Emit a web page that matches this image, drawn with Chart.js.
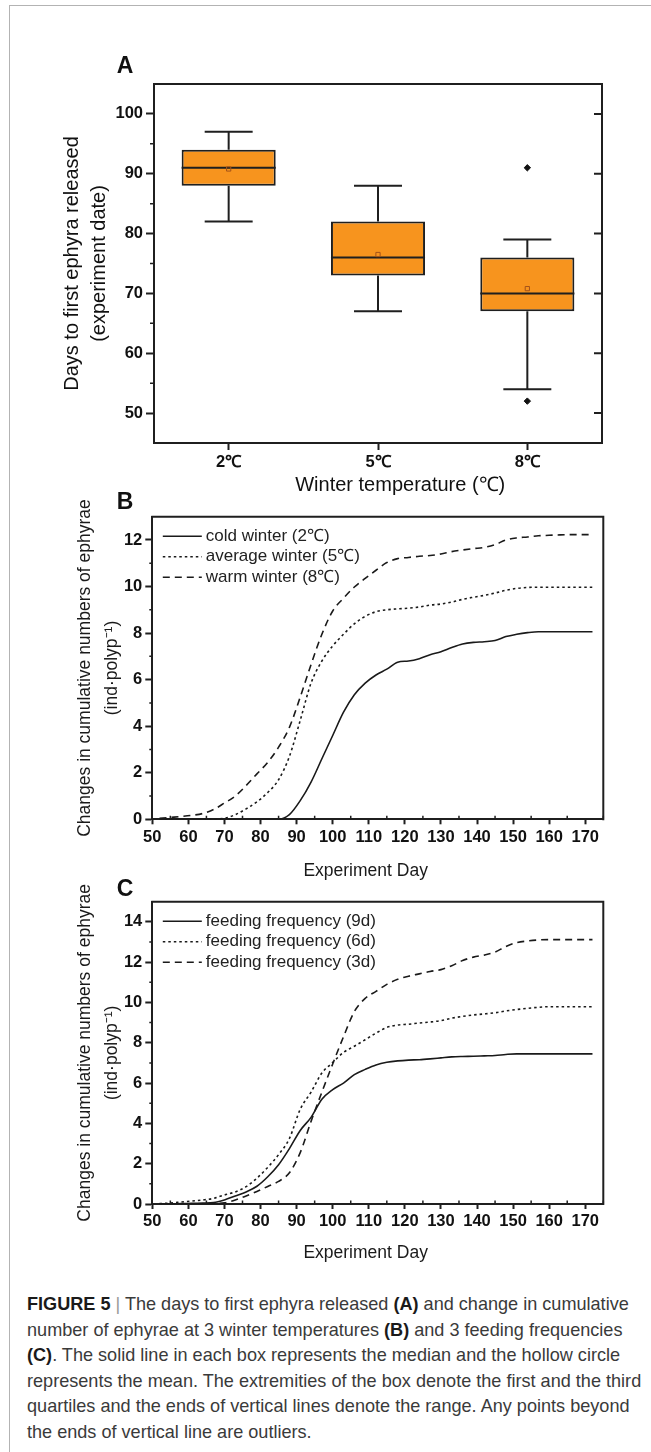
<!DOCTYPE html>
<html>
<head>
<meta charset="utf-8">
<script src="https://cdn.jsdelivr.net/npm/chart.js@4.4.1/dist/chart.umd.min.js"></script>
<style>
  html, body { margin: 0; padding: 0; background: #fff; }
  body { width: 651px; height: 1452px; position: relative; overflow: hidden; font-family: "Liberation Sans", Arial, sans-serif; }
  .rule-top { position: absolute; left: 9px; top: 5px; width: 642px; border-top: 1.5px solid #b3b3b3; }
  .rule-left { position: absolute; left: 8.5px; top: 5px; height: 1447px; border-left: 1.5px solid #b3b3b3; }
  canvas { position: absolute; left: 0; }
  #boxChart { top: 0; }
  #tempChart { top: 480px; }
  #feedChart { top: 870px; }
  .panel { position: absolute; font-weight: bold; font-size: 23px; color: #111; transform: translate(-50%, -50%); line-height: 1; }
  #caption { position: absolute; left: 27px; top: 1292px; color: #3a3a3a; line-height: 25.5px; font-size: 16px; white-space: nowrap; }
  #caption b { color: #1a1a1a; }
  #caption .bar { color: #999; }
</style>
</head>
<body>
<div class="rule-top"></div>
<div class="rule-left"></div>

<canvas id="boxChart" width="651" height="500"></canvas>
<canvas id="tempChart" width="651" height="410"></canvas>
<canvas id="feedChart" width="651" height="400"></canvas>

<div class="panel" style="left:125px; top:65px;">A</div>
<div class="panel" style="left:125px; top:501px;">B</div>
<div class="panel" style="left:125px; top:888px;">C</div>

<div id="caption">
  <div><span><b>FIGURE 5</b> <span class="bar">|</span> The days to first ephyra released <b>(A)</b> and change in cumulative</span></div>
  <div><span>number of ephyrae at 3 winter temperatures <b>(B)</b> and 3 feeding frequencies</span></div>
  <div><span><b>(C)</b>. The solid line in each box represents the median and the hollow circle</span></div>
  <div><span>represents the mean. The extremities of the box denote the first and the third</span></div>
  <div><span>quartiles and the ends of vertical lines denote the range. Any points beyond</span></div>
  <div><span>the ends of vertical line are outliers.</span></div>
</div>

<script>
// panel A - box plot
const temps = ["2℃", "5℃", "8℃"];
const boxMin = [82, 67, 54];
const boxQ1 = [88, 73, 67];
const boxMedian = [91, 76, 70];
const boxQ3 = [94, 82, 76];
const boxMax = [97, 88, 79];
const boxMean = [90.8, 76.5, 70.8];
const boxOutliers = [[], [], [91, 52]];
const yTicksA = [50, 60, 70, 80, 90, 100];

// panel B / C - cumulative ephyrae
const days = [52, 55, 58, 61, 64, 67, 70, 73, 76, 79, 82, 85, 88, 91, 94, 97, 100, 103, 106, 109,
              112, 115, 118, 121, 124, 127, 130, 133, 136, 139, 142, 145, 148, 151, 154, 157, 160, 163, 166, 169, 172];
const coldWinter = [0, 0, 0, 0, 0, 0, 0, 0, 0, 0, 0, 0, 0.2, 0.8, 1.6, 2.6, 3.6, 4.6, 5.35, 5.85,
                    6.2, 6.45, 6.75, 6.8, 6.9, 7.07, 7.2, 7.38, 7.53, 7.6, 7.63, 7.68, 7.85, 7.95, 8.02, 8.06, 8.06, 8.06, 8.06, 8.06, 8.06];
const averageWinter = [0, 0, 0, 0, 0, 0.01, 0.04, 0.2, 0.45, 0.75, 1.15, 1.7, 2.7, 4.25, 5.85, 6.8, 7.45, 7.95, 8.4, 8.72,
                       8.92, 9.0, 9.04, 9.07, 9.12, 9.2, 9.25, 9.33, 9.45, 9.54, 9.62, 9.72, 9.84, 9.92, 9.96, 9.97, 9.97, 9.97, 9.97, 9.97, 9.97];
const warmWinter = [0.04, 0.08, 0.12, 0.17, 0.25, 0.42, 0.7, 1.0, 1.45, 1.95, 2.45, 3.1, 3.95, 5.25, 6.65, 7.95, 8.95, 9.5, 9.98, 10.35,
                    10.7, 11.03, 11.2, 11.25, 11.3, 11.33, 11.4, 11.5, 11.57, 11.63, 11.68, 11.8, 12.0, 12.09, 12.13, 12.18, 12.2, 12.22, 12.23, 12.23, 12.23];
const feed9d = [0, 0, 0.02, 0.03, 0.05, 0.07, 0.2, 0.4, 0.6, 0.88, 1.35, 1.95, 2.75, 3.65, 4.3, 5.2, 5.68, 6.0, 6.42, 6.68,
                6.9, 7.03, 7.1, 7.14, 7.16, 7.2, 7.25, 7.3, 7.32, 7.33, 7.35, 7.37, 7.42, 7.45, 7.45, 7.45, 7.45, 7.45, 7.45, 7.45, 7.45];
const feed6d = [0.02, 0.05, 0.1, 0.15, 0.2, 0.28, 0.45, 0.6, 0.86, 1.28, 1.82, 2.45, 3.25, 4.7, 5.55, 6.5, 7.02, 7.52, 7.83, 8.15,
                8.48, 8.76, 8.88, 8.92, 8.98, 9.03, 9.1, 9.22, 9.31, 9.38, 9.43, 9.49, 9.58, 9.65, 9.71, 9.76, 9.79, 9.79, 9.79, 9.79, 9.79];
const feed3d = [0, 0, 0, 0, 0.01, 0.02, 0.06, 0.2, 0.4, 0.62, 0.87, 1.12, 1.55, 2.55, 4.1, 5.55, 6.95, 8.3, 9.55, 10.2,
                10.55, 10.9, 11.15, 11.3, 11.42, 11.54, 11.63, 11.82, 12.08, 12.25, 12.35, 12.5, 12.78, 12.97, 13.05, 13.1, 13.12, 13.12, 13.12, 13.12, 13.12];
const xTicksDay = [50, 60, 70, 80, 90, 100, 110, 120, 130, 140, 150, 160, 170];
const yTicksB = [0, 2, 4, 6, 8, 10, 12];
const yTicksC = [0, 2, 4, 6, 8, 10, 12, 14];

const FONT = "'Liberation Sans', Arial, sans-serif";
Chart.defaults.font.family = FONT;
Chart.defaults.color = "#111";

const ink = "#1f1f1f";
const tickFont = { family: FONT, size: 16.5, weight: "bold" };
const DOTTED = [2.5, 3];
const DASHED = [7, 5];

// midpoints between major ticks, plus one past the end
function minorsOf(majors, max) {
    const out = [];
    for (let i = 0; i < majors.length; i++) {
        const step = (majors[1] - majors[0]) / 2;
        const v = majors[i] + step;
        if (v <= max) out.push(v);
    }
    return out;
}

// top/right frame, minor ticks, inward right ticks
const frameTicks = {
    id: "frameTicks",
    afterDraw(chart, args, opts) {
        const { ctx, chartArea: a, scales: { x, y } } = chart;
        ctx.save();
        ctx.strokeStyle = ink;
        ctx.lineWidth = 2;
        ctx.beginPath();
        ctx.moveTo(a.left - 1, a.top);
        ctx.lineTo(a.right, a.top);
        ctx.lineTo(a.right, a.bottom + 1);
        ctx.stroke();

        ctx.lineWidth = 1.5;
        ctx.beginPath();
        (opts.minorY || []).forEach(v => {
            const py = y.getPixelForValue(v);
            ctx.moveTo(a.left - opts.minorYLen, py);
            ctx.lineTo(a.left, py);
        });
        (opts.minorX || []).forEach(v => {
            const px = x.getPixelForValue(v);
            ctx.moveTo(px, a.bottom);
            ctx.lineTo(px, a.bottom - opts.minorXLen);
        });
        ctx.stroke();

        if (opts.rightTicks) {
            ctx.lineWidth = 2;
            ctx.beginPath();
            y.ticks.forEach(t => {
                const py = y.getPixelForValue(t.value);
                ctx.moveTo(a.right - 8, py);
                ctx.lineTo(a.right, py);
            });
            ctx.stroke();
        }
        ctx.restore();
    }
};

// legend drawn inside the plot, top left
const innerLegend = {
    id: "innerLegend",
    afterDraw(chart, args, opts) {
        const { ctx, chartArea: a } = chart;
        ctx.save();
        ctx.font = "17px " + FONT;
        ctx.textBaseline = "middle";
        ctx.fillStyle = "#222";
        chart.data.datasets.forEach((ds, i) => {
            const py = a.top + opts.firstRow + i * opts.rowGap;
            ctx.strokeStyle = ds.borderColor;
            ctx.lineWidth = ds.borderWidth;
            ctx.setLineDash(ds.borderDash || []);
            ctx.beginPath();
            ctx.moveTo(a.left + 10.5, py);
            ctx.lineTo(a.left + 49.5, py);
            ctx.stroke();
            ctx.setLineDash([]);
            ctx.fillText(ds.label, a.left + 53.5, py);
        });
        ctx.restore();
    }
};

// whiskers, caps and medians, drawn right after the boxes
const boxWhiskers = {
    id: "boxWhiskers",
    afterDatasetDraw(chart, args) {
        if (args.index !== 0) return;
        const { ctx, scales: { x, y } } = chart;
        const bars = args.meta.data;
        ctx.save();
        ctx.strokeStyle = ink;
        ctx.lineWidth = 2;
        temps.forEach((t, i) => {
            const cx = x.getPixelForValue(i);
            const half = bars[i].width / 2;
            const cap = half * 0.51;
            ctx.beginPath();
            ctx.moveTo(cx, y.getPixelForValue(boxMin[i]));
            ctx.lineTo(cx, y.getPixelForValue(boxQ1[i]));
            ctx.moveTo(cx, y.getPixelForValue(boxQ3[i]));
            ctx.lineTo(cx, y.getPixelForValue(boxMax[i]));
            ctx.moveTo(cx - cap, y.getPixelForValue(boxMin[i]));
            ctx.lineTo(cx + cap, y.getPixelForValue(boxMin[i]));
            ctx.moveTo(cx - cap, y.getPixelForValue(boxMax[i]));
            ctx.lineTo(cx + cap, y.getPixelForValue(boxMax[i]));
            ctx.moveTo(cx - half, y.getPixelForValue(boxMedian[i]));
            ctx.lineTo(cx + half, y.getPixelForValue(boxMedian[i]));
            ctx.stroke();
        });
        ctx.restore();
    }
};

function gridOpts(len) {
    return { display: true, drawOnChartArea: false, tickLength: len, tickWidth: 2, tickColor: ink, offset: false };
}
const borderOpts = { display: true, color: ink, width: 2 };

// ---------- A ----------
new Chart(document.getElementById("boxChart"), {
    type: "bar",
    data: {
        labels: temps,
        datasets: [
            {
                label: "box",
                data: temps.map((t, i) => [boxQ1[i], boxQ3[i]]),
                backgroundColor: "#f7941e",
                borderColor: ink,
                borderWidth: 2,
                borderSkipped: false,
                barPercentage: 0.63,
                categoryPercentage: 1,
                order: 3
            },
            {
                type: "line",
                label: "mean",
                data: temps.map((t, i) => ({ x: t, y: boxMean[i] })),
                showLine: false,
                pointStyle: "rect",
                pointRadius: 3,
                pointBorderWidth: 1,
                pointBorderColor: "#a4531a",
                pointBackgroundColor: "rgba(0,0,0,0)",
                order: 1
            },
            {
                type: "line",
                label: "outliers",
                data: temps.flatMap((t, i) => boxOutliers[i].map(v => ({ x: t, y: v }))),
                showLine: false,
                pointStyle: "rectRot",
                pointRadius: 3.2,
                pointBorderWidth: 1,
                pointBorderColor: "#111",
                pointBackgroundColor: "#111",
                order: 2
            }
        ]
    },
    options: {
        responsive: false,
        animation: false,
        layout: { padding: { left: 0, right: 49, top: 84, bottom: 0 } },
        plugins: {
            legend: { display: false },
            tooltip: { enabled: false },
            frameTicks: { minorY: minorsOf(yTicksA, 104), minorYLen: 4, rightTicks: true }
        },
        scales: {
            x: {
                type: "category",
                offset: true,
                grid: gridOpts(7),
                border: borderOpts,
                ticks: { font: tickFont, color: "#111", padding: 3, maxRotation: 0 },
                title: {
                    display: true,
                    text: "        Winter temperature (℃)",
                    font: { family: FONT, size: 20 },
                    color: "#111",
                    padding: { top: 0, bottom: 3 }
                },
                afterFit: s => { s.height = 57; }
            },
            y: {
                min: 45,
                max: 105,
                afterBuildTicks: s => { s.ticks = yTicksA.map(v => ({ value: v })); },
                grid: gridOpts(8),
                border: borderOpts,
                ticks: { font: tickFont, color: "#111", padding: 3 },
                title: {
                    display: true,
                    text: ["Days to first ephyra released", "(experiment date)"],
                    font: { family: FONT, size: 20, lineHeight: 1.35 },
                    color: "#111",
                    padding: { top: 58.5, bottom: 0 }
                },
                afterFit: s => { s.width = 154; }
            }
        }
    },
    plugins: [boxWhiskers, frameTicks]
});

// ---------- B and C ----------
function curveChart(id, series, yMax, yTicks, pad, xHeight, xTitlePad) {
    return new Chart(document.getElementById(id), {
        type: "line",
        data: {
            datasets: series.map(s => ({
                label: s.label,
                data: days.map((d, i) => ({ x: d, y: s.values[i] })),
                borderColor: "#1a1a1a",
                borderWidth: 1.6,
                borderDash: s.dash,
                pointRadius: 0,
                fill: false,
                cubicInterpolationMode: "monotone"
            }))
        },
        options: {
            responsive: false,
            animation: false,
            layout: { padding: pad },
            plugins: {
                legend: { display: false },
                tooltip: { enabled: false },
                innerLegend: { firstRow: 19.5, rowGap: 20.5 },
                frameTicks: {
                    minorY: minorsOf(yTicks, yMax - 0.5), minorYLen: 3,
                    minorX: minorsOf(xTicksDay, 175), minorXLen: 3.5
                }
            },
            scales: {
                x: {
                    type: "linear",
                    min: 50,
                    max: 175,
                    afterBuildTicks: s => { s.ticks = xTicksDay.map(v => ({ value: v })); },
                    grid: gridOpts(5),
                    border: borderOpts,
                    ticks: { font: tickFont, color: "#111", padding: 3, autoSkip: false, maxRotation: 0 },
                    title: {
                        display: true,
                        text: "Experiment Day     ",
                        font: { family: FONT, size: 17.5 },
                        color: "#1a1a1a",
                        padding: { top: 0, bottom: xTitlePad }
                    },
                    afterFit: s => { s.height = xHeight; }
                },
                y: {
                    min: 0,
                    max: yMax,
                    afterBuildTicks: s => { s.ticks = yTicks.map(v => ({ value: v })); },
                    grid: gridOpts(7),
                    border: borderOpts,
                    ticks: { font: tickFont, color: "#111", padding: 3 },
                    title: {
                        display: true,
                        text: ["Changes in cumulative numbers of ephyrae", "(ind·polyp⁻¹)"],
                        font: { family: FONT, size: 17.5, lineHeight: 1.526 },
                        color: "#1a1a1a",
                        padding: { top: 71.65, bottom: 0 }
                    },
                    afterFit: s => { s.width = 152.3; }
                }
            }
        },
        plugins: [frameTicks, innerLegend]
    });
}

curveChart("tempChart", [
    { label: "cold winter (2℃)", values: coldWinter, dash: [] },
    { label: "average winter (5℃)", values: averageWinter, dash: DOTTED },
    { label: "warm winter (8℃)", values: warmWinter, dash: DASHED }
], 13, yTicksB, { left: 0, right: 47.7, top: 36.7, bottom: 0 }, 70.7, 8.5);

curveChart("feedChart", [
    { label: "feeding frequency (9d)", values: feed9d, dash: [] },
    { label: "feeding frequency (6d)", values: feed6d, dash: DOTTED },
    { label: "feeding frequency (3d)", values: feed3d, dash: DASHED }
], 15, yTicksC, { left: 0, right: 47.7, top: 31.7, bottom: 0 }, 66, 6.5);

// fit caption so its first line spans the same width as the figure caption
const caption = document.getElementById("caption");
const firstLine = caption.querySelector("div > span");
const w = firstLine.getBoundingClientRect().width;
caption.style.fontSize = (16 * 602 / w).toFixed(2) + "px";
</script>
</body>
</html>
